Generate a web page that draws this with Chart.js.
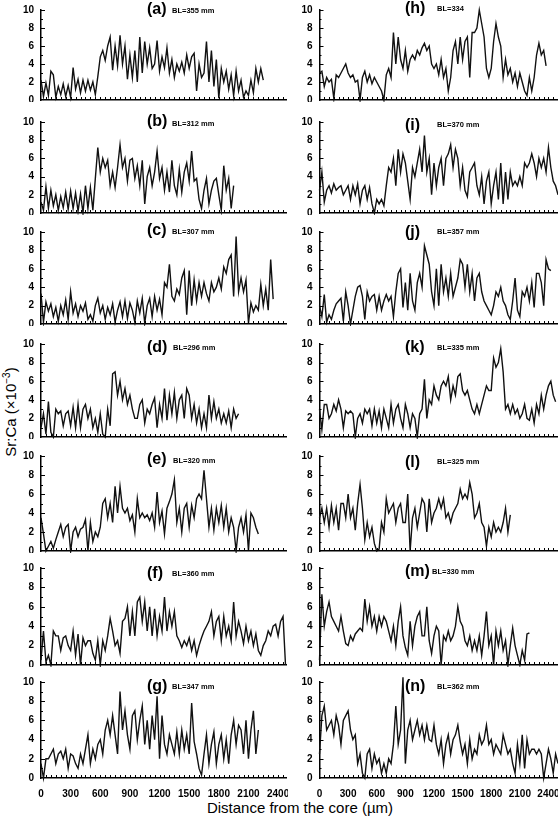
<!DOCTYPE html>
<html>
<head>
<meta charset="utf-8">
<script src="https://cdn.jsdelivr.net/npm/chart.js@4.4.0/dist/chart.umd.min.js"></script>
<style>
  body { margin: 0; width: 558px; height: 820px; background: #fff; position: relative; overflow: hidden;
         font-family: "Liberation Sans", Arial, sans-serif; color: #000; }
  canvas { position: absolute; }
  .tag { position: absolute; font-weight: bold; font-size: 16px; line-height: 1; transform: translateY(-50%); white-space: nowrap; }
  .bl { position: absolute; font-weight: bold; font-size: 7.5px; line-height: 1; transform: translateY(-50%); white-space: nowrap; }
  #ylab { position: absolute; left: 10px; top: 412px; transform: translate(-50%, -50%) rotate(-90deg);
          font-size: 15px; white-space: nowrap; }
  #ylab sup { font-size: 10px; }
  #xlab { position: absolute; left: 300px; top: 807px; transform: translate(-50%, -50%); font-size: 15px; white-space: nowrap; }
</style>
</head>
<body>
<div id="ylab">Sr:Ca (×10<sup>−3</sup>)</div>
<div id="xlab">Distance from the core (µm)</div>
<script>
// Sr:Ca profiles, one value every 25 µm from the core
const distanceStepUm = 25;
const xTickValues = [0, 300, 600, 900, 1200, 1500, 1800, 2100, 2400];
const yTickValues = [0, 2, 4, 6, 8, 10];
const panelLetters = ['a', 'b', 'c', 'd', 'e', 'f', 'g', 'h', 'i', 'j', 'k', 'l', 'm', 'n'];
const bodyLengths = ['BL=355 mm', 'BL=312 mm', 'BL=307 mm', 'BL=296 mm', 'BL=320 mm', 'BL=360 mm', 'BL=347 mm',
                     'BL=334', 'BL=370 mm', 'BL=357 mm', 'BL=335 mm', 'BL=325 mm', 'BL=330 mm', 'BL=362 mm'];

const srcaA = [2.2, 0.4, 1.9, 0.5, 3.2, 2.8, 0.3, 1.5, 0.6, 1.8, 0.4, 1.6,
  0.3, 3.6, 1.2, 2.3, 0.8, 2.2, 1.0, 2.2, 1.1, 2.0, 0.6, 2.6,
  4.8, 5.5, 4.4, 6.0, 7.0, 3.3, 6.0, 3.8, 7.2, 4.0, 6.0, 2.3,
  5.0, 2.5, 5.5, 2.0, 7.0, 3.0, 6.5, 4.0, 5.8, 3.5, 4.0, 6.6,
  3.2, 4.8, 3.6, 5.8, 3.0, 4.5, 2.5, 4.0, 3.2, 4.2, 3.0, 5.0,
  3.5, 4.8, 5.2, 1.0, 4.0, 2.5, 3.0, 6.5, 2.0, 5.5, 1.5, 4.5,
  0.2, 3.5, 2.0, 3.2, 1.2, 2.8, 0.5, 3.2, 1.0, 2.2, 0.3, 1.0,
  0.5, 2.2, 0.8, 3.5, 2.0, 3.5, 2.2];
const srcaB = [1.2, 0.3, 2.9, 0.5, 2.5, 0.8, 2.0, 0.3, 1.8, 0.6, 2.3, 0.4,
  2.4, 0.5, 2.2, 0.2, 2.1, 0.0, 3.0, 0.5, 2.8, 0.3, 3.8, 7.2,
  4.5, 6.0, 5.0, 5.8, 3.0, 4.5, 2.8, 5.0, 7.5, 5.0, 6.0, 3.5,
  5.8, 6.0, 3.8, 5.2, 3.0, 5.8, 1.0, 4.0, 5.0, 3.0, 4.5, 6.8,
  3.8, 5.0, 2.5, 4.5, 2.3, 5.8, 3.0, 2.0, 4.8, 2.3, 4.5, 5.5,
  3.5, 6.8, 3.5, 3.8, 1.5, 0.5, 2.5, 3.8, 1.0, 2.5, 3.5, 3.8,
  2.0, 0.3, 5.2, 2.5, 3.8, 0.5, 3.0];
const srcaC = [3.3, 0.2, 2.4, 1.4, 2.2, 0.8, 1.8, 0.3, 2.0, 1.0, 2.6, 0.5,
  3.5, 1.2, 2.2, 0.8, 2.0, 1.4, 2.3, 0.5, 1.0, 0.3, 2.0, 2.8,
  1.2, 2.0, 0.5, 1.8, 1.0, 2.2, 0.2, 1.5, 2.4, 0.8, 2.5, 0.6,
  2.3, 1.5, 0.2, 2.5, 1.2, 2.8, 0.1, 2.0, 2.8, 0.8, 3.0, 1.5,
  2.7, 1.0, 4.5, 4.0, 6.5, 3.0, 2.5, 3.8, 3.2, 5.0, 5.8, 1.0,
  5.8, 2.0, 4.8, 2.5, 4.5, 3.0, 4.5, 3.3, 2.5, 4.5, 3.5, 4.0,
  5.0, 3.8, 6.2, 5.5, 7.0, 7.5, 3.0, 9.5, 3.5, 5.0, 3.5, 4.8,
  0.1, 2.3, 1.3, 2.0, 1.5, 4.3, 2.0, 3.8, 1.5, 7.0, 2.7];
const srcaD = [1.0, 2.5, 0.3, 3.8, 0.5, 0.0, 3.0, 2.5, 2.8, 1.2, 2.5, 2.8,
  1.2, 3.2, 1.0, 3.5, 1.0, 3.0, 3.5, 2.0, 3.0, 1.0, 2.0, 0.5,
  2.5, 0.3, 0.0, 3.0, 1.2, 6.8, 7.0, 4.5, 6.0, 4.0, 5.2, 3.5,
  4.5, 3.0, 2.0, 2.0, 3.5, 4.0, 1.5, 3.0, 2.5, 3.5, 4.2, 1.0,
  3.5, 2.0, 5.2, 1.8, 4.5, 2.5, 4.8, 2.0, 4.0, 4.5, 2.0, 5.2,
  4.5, 2.0, 3.5, 1.5, 3.0, 1.0, 2.5, 1.0, 4.5, 2.0, 3.8, 2.0,
  3.0, 1.5, 2.5, 1.5, 2.8, 1.0, 3.0, 2.0, 2.5];
const srcaE = [3.5, 1.8, 0.0, 0.5, 1.0, 0.3, 1.2, 2.0, 2.8, 1.5, 2.5, 2.8,
  0.0, 2.0, 2.5, 1.5, 2.3, 2.5, 3.3, 0.0, 3.0, 1.0, 2.0, 1.5,
  2.5, 5.0, 5.5, 3.5, 5.0, 3.0, 6.8, 4.0, 6.8, 4.5, 4.0, 4.5,
  3.2, 3.8, 2.0, 5.5, 3.5, 4.0, 3.5, 3.8, 3.2, 4.0, 2.5, 6.2,
  3.0, 4.2, 1.8, 4.5, 5.2, 6.0, 7.5, 3.0, 4.5, 2.0, 4.5, 5.0,
  2.5, 4.8, 3.5, 5.5, 6.0, 5.5, 8.5, 5.5, 2.5, 4.5, 2.2, 4.5,
  3.0, 4.8, 2.5, 4.5, 2.0, 3.5, 2.5, 0.0, 2.5, 3.5, 2.0, 3.8,
  0.0, 4.0, 3.5, 2.5, 1.8];
const srcaF = [0.5, 3.5, 0.3, 1.0, 0.0, 3.5, 3.0, 3.0, 1.5, 2.8, 3.0, 2.0,
  1.5, 3.5, 1.0, 3.2, 0.0, 2.8, 2.0, 2.5, 2.5, 1.2, 0.5, 2.5,
  0.0, 2.5, 1.5, 3.0, 4.8, 3.5, 2.0, 2.5, 1.2, 4.5, 4.8, 6.0,
  3.0, 5.5, 3.0, 6.5, 7.0, 4.5, 6.5, 3.5, 6.0, 3.0, 5.8, 3.0,
  5.0, 3.5, 7.0, 3.5, 5.5, 4.0, 5.5, 3.0, 2.5, 1.8, 2.5, 2.0,
  2.8, 1.5, 2.5, 1.0, 2.0, 2.8, 3.5, 4.0, 4.5, 5.5, 3.0, 4.5,
  5.0, 2.5, 5.0, 3.0, 4.0, 2.5, 6.5, 3.0, 4.5, 3.5, 2.2, 4.0,
  2.5, 3.5, 2.0, 3.2, 1.5, 1.0, 2.0, 2.5, 3.5, 3.0, 4.0, 4.2,
  3.0, 4.5, 5.0, 0.0];
const srcaG = [1.5, 0.0, 2.0, 2.0, 2.5, 3.0, 1.5, 2.5, 2.8, 2.0, 3.0, 1.0,
  2.5, 2.3, 1.5, 1.0, 2.5, 1.5, 3.0, 4.5, 1.5, 3.0, 2.0, 3.5,
  4.0, 2.5, 5.0, 6.0, 4.5, 6.5, 4.5, 2.5, 9.0, 5.0, 7.0, 4.5,
  3.0, 6.5, 7.0, 4.0, 6.0, 7.5, 3.5, 6.0, 3.0, 6.5, 4.0, 8.5,
  2.0, 6.5, 3.5, 2.5, 4.5, 3.5, 2.5, 4.8, 2.5, 5.0, 3.0, 4.5,
  2.5, 7.8, 3.8, 2.5, 1.0, 0.3, 2.5, 4.5, 1.5, 3.5, 4.8, 1.5,
  3.5, 4.5, 2.0, 4.0, 1.5, 4.5, 6.0, 3.5, 5.5, 5.0, 2.5, 6.0,
  2.0, 5.0, 7.0, 2.5, 5.0];
const srcaH = [3.0, 3.2, 1.5, 2.5, 2.0, 2.3, 0.2, 2.8, 2.5, 3.0, 3.5, 4.0,
  3.0, 2.5, 2.8, 2.0, 2.2, 0.0, 2.5, 3.2, 2.0, 2.8, 1.8, 2.5,
  2.0, 1.5, 1.0, 0.0, 2.8, 3.5, 2.5, 7.5, 4.0, 7.0, 4.5, 3.5,
  5.5, 3.2, 4.5, 5.0, 4.5, 5.5, 5.0, 5.8, 6.3, 5.5, 6.0, 4.0,
  3.5, 4.0, 2.8, 4.5, 2.5, 3.5, 1.0, 2.5, 5.5, 6.5, 4.0, 7.0,
  4.5, 6.5, 7.0, 2.5, 7.5, 7.5, 8.0, 10.0, 8.5, 7.0, 3.5, 2.5,
  3.5, 6.5, 8.5, 7.0, 6.0, 2.5, 4.5, 2.8, 3.5, 2.0, 3.0, 1.5,
  3.0, 2.0, 1.0, 0.5, 2.5, 1.0, 2.5, 5.0, 6.3, 5.0, 5.5, 3.8];
const srcaI = [2.5, 4.5, 1.2, 2.5, 3.0, 2.2, 3.2, 2.5, 2.8, 3.0, 2.0, 2.5,
  3.0, 1.5, 3.0, 2.0, 3.2, 1.0, 2.5, 3.0, 1.5, 2.8, 1.0, 0.0,
  1.5, 1.0, 1.5, 0.8, 3.0, 5.0, 4.5, 6.0, 3.0, 7.0, 4.5, 6.5,
  5.5, 3.5, 1.5, 5.0, 4.0, 5.5, 7.0, 4.5, 8.5, 4.5, 6.0, 2.0,
  5.5, 3.0, 5.0, 6.0, 3.0, 6.0, 6.5, 7.5, 5.0, 7.0, 6.0, 3.0,
  5.0, 2.5, 1.8, 4.5, 5.0, 5.5, 3.0, 2.0, 4.0, 1.0, 3.5, 4.5,
  1.0, 3.0, 4.5, 1.5, 5.5, 1.0, 4.5, 1.5, 4.5, 3.0, 3.5, 3.0,
  4.0, 3.0, 5.5, 5.0, 5.5, 6.5, 5.5, 4.0, 6.0, 5.0, 6.0, 4.5,
  7.2, 5.0, 3.5, 3.0, 2.0];
const srcaJ = [2.0, 0.8, 3.2, 0.2, 1.0, 0.5, 1.5, 2.2, 2.5, 2.8, 0.3, 3.5,
  2.0, 0.0, 1.5, 3.0, 4.0, 4.2, 3.0, 0.5, 3.5, 2.5, 3.0, 3.2,
  1.5, 3.0, 1.5, 2.5, 3.2, 2.5, 3.0, 0.8, 3.5, 5.5, 6.0, 1.8,
  4.5, 1.5, 5.5, 2.5, 1.5, 4.5, 5.5, 4.0, 8.5, 7.5, 6.5, 3.5,
  2.0, 6.0, 2.0, 6.5, 3.5, 5.0, 3.0, 5.5, 3.0, 4.0, 5.0, 7.0,
  6.5, 4.0, 6.5, 3.5, 5.5, 2.5, 5.0, 5.5, 3.5, 2.5, 2.0, 1.5,
  1.0, 2.0, 3.5, 3.0, 4.0, 2.5, 2.0, 1.0, 0.5, 2.5, 5.0, 1.5,
  0.8, 3.5, 3.0, 4.0, 2.5, 4.5, 1.8, 5.5, 5.5, 4.5, 2.0, 7.0, 6.0, 5.8];
const srcaK = [3.0, 0.8, 3.5, 3.5, 2.0, 2.5, 3.5, 2.8, 4.0, 3.0, 1.0, 2.8,
  2.5, 2.8, 2.5, 0.0, 2.0, 2.5, 1.5, 3.0, 2.5, 3.0, 1.2, 3.0,
  1.5, 2.8, 1.0, 3.0, 2.0, 1.0, 3.5, 1.5, 3.0, 3.5, 2.0, 1.0,
  3.5, 2.5, 1.0, 2.5, 2.0, 0.0, 2.5, 3.0, 6.2, 2.0, 4.0, 3.5,
  5.5, 4.5, 4.0, 5.5, 6.0, 5.5, 6.5, 4.0, 5.5, 4.5, 6.5, 6.8,
  5.0, 4.5, 5.0, 4.0, 3.0, 2.5, 3.5, 2.5, 3.5, 4.5, 5.5, 5.0,
  5.0, 8.5, 7.5, 8.0, 9.5, 7.0, 3.0, 3.5, 2.5, 3.5, 2.5, 3.0,
  2.0, 2.5, 3.5, 2.0, 1.8, 3.0, 1.5, 3.5, 2.5, 4.5, 3.0, 4.5,
  5.5, 6.0, 4.5, 3.8];
const srcaL = [3.5, 4.5, 3.0, 4.5, 2.5, 4.8, 3.0, 4.5, 2.2, 5.0, 5.0, 3.5,
  6.0, 3.5, 4.5, 2.2, 5.0, 7.0, 4.5, 1.2, 3.0, 1.5, 2.5, 0.8,
  0.0, 0.2, 3.0, 2.0, 5.5, 4.0, 4.5, 5.0, 3.0, 4.5, 5.0, 3.0,
  3.0, 6.0, 0.0, 3.5, 4.5, 2.5, 4.0, 5.5, 5.0, 2.0, 5.5, 3.0,
  4.0, 4.5, 5.5, 4.5, 5.5, 3.5, 4.0, 3.0, 4.0, 4.5, 5.0, 6.5,
  5.5, 6.0, 5.5, 7.2, 6.0, 3.5, 4.0, 5.0, 3.0, 2.5, 0.5, 2.5,
  1.5, 3.0, 2.0, 2.5, 2.0, 3.0, 4.5, 2.0, 3.8];
const srcaM = [0.5, 7.3, 4.0, 5.5, 6.5, 5.0, 4.5, 4.0, 3.5, 5.0, 3.5, 2.2,
  2.0, 3.0, 2.5, 3.2, 3.5, 3.8, 3.5, 6.8, 4.5, 6.0, 4.0, 5.0,
  3.5, 5.0, 4.0, 5.0, 4.5, 3.5, 2.5, 4.0, 2.0, 4.5, 6.0, 3.0,
  1.8, 1.0, 4.5, 2.0, 4.0, 5.0, 5.5, 3.0, 3.0, 6.0, 2.5, 1.2,
  3.0, 4.0, 3.5, 0.0, 3.0, 2.5, 3.5, 2.5, 3.0, 4.0, 6.0, 4.5,
  4.0, 2.5, 2.0, 3.0, 1.5, 2.5, 1.5, 3.0, 1.0, 3.0, 5.5, 2.0,
  3.0, 0.0, 3.5, 2.0, 3.5, 1.5, 2.5, 0.0, 2.0, 3.8, 2.0, 1.0,
  0.0, 1.5, 0.5, 3.2, 3.3];
const srcaN = [2.5, 6.5, 7.5, 5.0, 5.5, 6.0, 4.5, 6.5, 5.5, 3.5, 6.0, 6.5,
  7.0, 5.0, 4.0, 4.5, 1.5, 2.5, 0.5, 0.0, 2.5, 3.0, 1.0, 2.5,
  1.5, 2.0, 0.5, 1.5, 0.5, 2.0, 1.5, 3.5, 7.5, 3.5, 5.0, 10.5,
  1.5, 5.0, 6.0, 4.0, 5.0, 6.0, 4.5, 5.5, 4.0, 5.5, 4.0, 3.8,
  5.5, 3.5, 2.5, 4.0, 1.5, 3.5, 4.5, 2.5, 4.0, 4.5, 5.5, 3.8,
  2.5, 3.5, 1.5, 4.0, 2.0, 3.0, 2.5, 4.5, 3.5, 4.0, 5.5, 3.5,
  4.0, 2.5, 3.5, 3.0, 2.5, 4.5, 3.5, 2.5, 3.0, 1.5, 0.5, 3.5,
  1.5, 4.5, 1.0, 4.0, 2.5, 3.0, 3.0, 2.5, 3.0, 2.5, 0.0, 1.5,
  3.0, 2.0, 0.5, 2.5, 1.5];

const profiles = [srcaA, srcaB, srcaC, srcaD, srcaE, srcaF, srcaG,
                  srcaH, srcaI, srcaJ, srcaK, srcaL, srcaM, srcaN];

// page layout (pixels)
const rowTop = [10, 122, 232, 344, 456, 568, 682];
const rowBottom = [100, 213, 324, 437, 551, 665, 778];
const columns = [
  { left: 0, width: 288, axisW: 41, padRight: 2, xMax: 2480, tagX: 147,
    blX: [172, 172, 172, 173, 173, 172, 172],
    tagY: [9, 121, 230, 347, 459, 573, 686], blY: [11, 124, 232, 348, 461, 574, 687] },
  { left: 290, width: 268, axisW: 29.5, padRight: 0, xMax: 2500, tagX: 405,
    blX: [437, 437, 437, 437, 437, 432, 437],
    tagY: [8, 125, 232, 347, 462, 571, 686], blY: [9, 125, 232, 348, 462, 572, 687] }
];
const padTop = 8;
const fontFamily = "'Liberation Sans', Arial, Helvetica, sans-serif";

Chart.defaults.font.family = fontFamily;
Chart.defaults.color = '#000';

// small tick marks drawn inside the axes
const innerTicks = {
  id: 'innerTicks',
  afterDraw(chart) {
    const { ctx, chartArea, scales: { x, y } } = chart;
    ctx.save();
    ctx.strokeStyle = '#000';
    ctx.lineWidth = 1;
    ctx.beginPath();
    for (let v = 50; v <= x.max; v += 50) {
      const px = Math.round(x.getPixelForValue(v)) + 0.5;
      ctx.moveTo(px, chartArea.bottom);
      ctx.lineTo(px, chartArea.bottom - 3);
    }
    for (let v = 1; v <= 10; v++) {
      const py = Math.round(y.getPixelForValue(v)) + 0.5;
      ctx.moveTo(chartArea.left, py);
      ctx.lineTo(chartArea.left + (v % 2 ? 2 : 4), py);
    }
    ctx.stroke();
    ctx.restore();
  }
};

// keep the plot box fixed: no automatic room for overhanging tick labels
function noPadding(s) {
  s.paddingLeft = 0; s.paddingRight = 0; s.paddingTop = 0; s.paddingBottom = 0;
}

function addText(cls, text, x, y) {
  const d = document.createElement('div');
  d.className = cls;
  d.textContent = text;
  d.style.left = x + 'px';
  d.style.top = y + 'px';
  document.body.appendChild(d);
}

profiles.forEach((values, i) => {
  const col = columns[i < 7 ? 0 : 1];
  const row = i % 7;
  const isBottom = row === 6;
  const axisH = isBottom ? 24 : 2;
  const plotH = rowBottom[row] - rowTop[row];

  const canvas = document.createElement('canvas');
  canvas.width = col.width;
  canvas.height = padTop + plotH + axisH;
  canvas.style.left = col.left + 'px';
  canvas.style.top = (rowTop[row] - padTop) + 'px';
  document.body.appendChild(canvas);

  new Chart(canvas, {
    type: 'line',
    data: {
      datasets: [{
        data: values.map((v, k) => ({ x: k * distanceStepUm, y: v })),
        borderColor: '#111',
        borderWidth: 1.4,
        pointRadius: 0,
        tension: 0,
        clip: 8
      }]
    },
    options: {
      responsive: false,
      animation: false,
      devicePixelRatio: 1,
      layout: { padding: { top: padTop, right: col.padRight, left: 0, bottom: 0 } },
      plugins: { legend: { display: false }, tooltip: { enabled: false } },
      scales: {
        x: {
          type: 'linear',
          min: 0,
          max: col.xMax,
          afterBuildTicks: s => { s.ticks = xTickValues.map(v => ({ value: v })); },
          afterFit: s => { s.height = axisH; noPadding(s); },
          grid: { display: false, drawTicks: false },
          border: { display: true, color: '#000', width: 1.5 },
          ticks: {
            display: isBottom,
            autoSkip: false,
            maxRotation: 0,
            padding: 10,
            font: { size: 10, weight: 'bold' },
            color: '#000',
            callback: v => String(v)
          }
        },
        y: {
          min: 0,
          max: 10,
          afterBuildTicks: s => { s.ticks = yTickValues.map(v => ({ value: v })); },
          afterFit: s => { s.width = col.axisW; noPadding(s); },
          grid: { display: false, drawTicks: false },
          border: { display: true, color: '#000', width: 1.5 },
          ticks: {
            padding: 7,
            font: { size: 10, weight: 'bold' },
            color: '#000',
            callback: v => String(v)
          }
        }
      }
    },
    plugins: [innerTicks]
  });

  addText('tag', '(' + panelLetters[i] + ')', col.tagX, col.tagY[row]);
  addText('bl', bodyLengths[i], col.blX[row], col.blY[row]);
});
</script>
</body>
</html>
